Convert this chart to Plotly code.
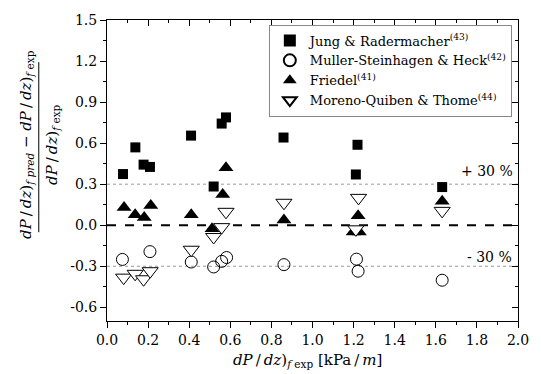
import plotly.graph_objects as go

# ---- data ----
jung_x = [0.078, 0.138, 0.178, 0.209, 0.409, 0.519, 0.558, 0.579, 0.859, 1.211, 1.219, 1.631]
jung_y = [0.374, 0.569, 0.443, 0.426, 0.655, 0.283, 0.743, 0.788, 0.641, 0.371, 0.588, 0.279]

muller_x = [0.075, 0.209, 0.410, 0.519, 0.558, 0.582, 0.861, 1.214, 1.222, 1.631]
muller_y = [-0.250, -0.193, -0.269, -0.305, -0.264, -0.236, -0.288, -0.248, -0.336, -0.402]

friedel_x = [0.083, 0.137, 0.181, 0.213, 0.410, 0.511, 0.563, 0.579, 0.861, 1.198, 1.222, 1.228, 1.631]
friedel_y = [0.129, 0.076, 0.057, 0.145, 0.076, -0.026, 0.224, 0.421, 0.038, -0.050, 0.070, -0.050, 0.176]

moreno_x = [0.081, 0.137, 0.178, 0.210, 0.410, 0.519, 0.558, 0.579, 0.861, 1.211, 1.224, 1.631]
moreno_y = [-0.383, -0.355, -0.395, -0.336, -0.179, -0.086, -0.014, 0.098, 0.164, -0.030, 0.200, 0.105]

x_ticks = [0.0, 0.2, 0.4, 0.6, 0.8, 1.0, 1.2, 1.4, 1.6, 1.8, 2.0]
y_ticks = [-0.6, -0.3, 0.0, 0.3, 0.6, 0.9, 1.2, 1.5]
y_minor = [-0.45, -0.15, 0.15, 0.45, 0.75, 1.05, 1.35]
x_range = [0.0, 2.0]
y_range = [-0.7, 1.5]
band_levels = [0.3, -0.3]
band_labels = ["+ 30 %", "- 30 %"]

SERIF = "DejaVu Serif"
TS = "\u2009"  # thin space
DPDZ = f"<i>dP</i>{TS}/{TS}<i>dz</i>)"

fig = go.Figure()

fig.add_trace(go.Scatter(
    x=jung_x, y=jung_y, mode="markers",
    name="Jung &amp; Radermacher<sup>(43)</sup>",
    marker=dict(symbol="square", size=10, color="black", line=dict(width=0))))
fig.add_trace(go.Scatter(
    x=muller_x, y=muller_y, mode="markers",
    name="Muller-Steinhagen &amp; Heck<sup>(42)</sup>",
    marker=dict(symbol="circle-open", size=12, color="black", line=dict(width=1))))
fig.add_trace(go.Scatter(
    x=friedel_x, y=friedel_y, mode="markers",
    name="Friedel<sup>(41)</sup>",
    marker=dict(symbol="triangle-up", size=13, color="black", line=dict(width=0))))
fig.add_trace(go.Scatter(
    x=moreno_x, y=moreno_y, mode="markers",
    name="Moreno-Quiben &amp; Thome<sup>(44)</sup>",
    marker=dict(symbol="triangle-down", size=14, color="white", line=dict(width=1, color="black"))))

fig.add_trace(go.Scatter(x=[None], y=[None], xaxis="x2", yaxis="y2",
                         showlegend=False, hoverinfo="skip", mode="markers"))

fig.add_hline(y=0.0, line=dict(color="black", width=2, dash="dash"), layer="below")
for lv in band_levels:
    fig.add_hline(y=lv, line=dict(color="#999999", width=1, dash="dot"), layer="below")

fig.add_annotation(x=1.85, y=0.40, text=band_labels[0], showarrow=False,
                   font=dict(family=SERIF, size=14, color="black"))
fig.add_annotation(x=1.86, y=-0.23, text=band_labels[1], showarrow=False,
                   font=dict(family=SERIF, size=14, color="black"))

axis_common = dict(showline=True, linecolor="black", linewidth=1, showgrid=False,
                   zeroline=False)

fig.update_layout(
    width=541, height=374,
    margin=dict(l=107, r=13, t=15, b=53),
    paper_bgcolor="white", plot_bgcolor="white",
    font=dict(family=SERIF, size=14, color="black"),
    xaxis=dict(range=x_range, tickvals=x_ticks, ticktext=[f"{v:.1f}" for v in x_ticks],
               ticks="outside", ticklen=6, tickcolor="black",
               tickfont=dict(family=SERIF, size=14),
               minor=dict(ticks="outside", dtick=0.1, ticklen=3, tickcolor="black"),
               **axis_common),
    yaxis=dict(range=y_range, tickvals=y_ticks, ticktext=[f"{v:.1f}" for v in y_ticks],
               ticks="outside", ticklen=6, tickcolor="black",
               tickfont=dict(family=SERIF, size=14),
               minor=dict(ticks="outside", tickvals=y_minor, ticklen=3, tickcolor="black"),
               **axis_common),
    xaxis2=dict(range=x_range, overlaying="x", side="top", anchor="y",
                tickvals=x_ticks, showticklabels=False,
                ticks="inside", ticklen=6, tickcolor="black",
                minor=dict(ticks="inside", dtick=0.1, ticklen=3, tickcolor="black"),
                **axis_common),
    yaxis2=dict(range=y_range, overlaying="y", side="right", anchor="x",
                tickvals=y_ticks, showticklabels=False,
                ticks="inside", ticklen=6, tickcolor="black",
                minor=dict(ticks="inside", tickvals=y_minor, ticklen=3, tickcolor="black"),
                **axis_common),
    legend=dict(x=0.985, y=0.985, xanchor="right", yanchor="top",
                bordercolor="#888888", borderwidth=1, bgcolor="white",
                font=dict(family=SERIF, size=13, color="black"),
                tracegroupgap=0, itemsizing="constant"),
    showlegend=True,
)

fig.add_annotation(xref="paper", yref="paper", x=0.487, y=-0.13, yanchor="middle",
                   text=f"{DPDZ}<sub><i>f</i> exp</sub> [kPa{TS}/{TS}<i>m</i>]",
                   showarrow=False, font=dict(family=SERIF, size=15, color="black"))

fig.add_annotation(xref="paper", yref="paper", x=0, xshift=-80, y=0.585,
                   textangle=-90, xanchor="center", yanchor="middle",
                   text=f"{DPDZ}<sub><i>f pred</i></sub> − {DPDZ}<sub><i>f</i> exp</sub>",
                   showarrow=False, font=dict(family=SERIF, size=15, color="black"))
fig.add_annotation(xref="paper", yref="paper", x=0, xshift=-54, y=0.585,
                   textangle=-90, xanchor="center", yanchor="middle",
                   text=f"{DPDZ}<sub><i>f</i> exp</sub>",
                   showarrow=False, font=dict(family=SERIF, size=15, color="black"))
fig.add_shape(type="line", xref="paper", yref="paper",
              x0=-0.166, x1=-0.166, y0=0.295, y1=0.86,
              line=dict(color="black", width=1))

fig.write_html("out.html")
